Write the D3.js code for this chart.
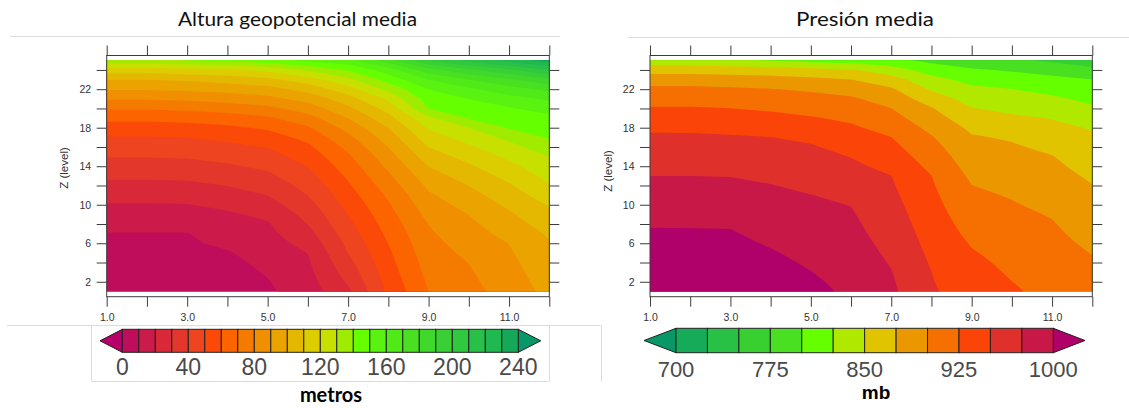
<!DOCTYPE html>
<html>
<head>
<meta charset="utf-8">
<script src="https://cdn.jsdelivr.net/npm/d3@7"></script>
<style>
  html, body { margin: 0; padding: 0; background: #ffffff; }
  svg { display: block; }
</style>
</head>
<body>
<svg id="chart" width="1129" height="408"></svg>
<script>
// Grid: columns 1..12 along x, model levels 1..25 along Z.
const columns = [1, 2, 3, 4, 5, 6, 7, 8, 9, 10, 11, 12];
const levels = [1, 2, 3, 4, 5, 6, 7, 8, 9, 10, 11, 12, 13, 14, 15, 16, 17, 18, 19, 20, 21, 22, 23, 24, 25];

// Mean geopotential height (m), one row per level (level 1 first), one value per column.
const alturaMedia = [
  [3, 3, 3.5, 4.5, 8.5, 15, 28, 52, 70, 77, 84, 93],
  [4, 4, 4.5, 5.5, 9.5, 16.3, 31.4, 53.6, 71.4, 78, 85.2, 94.3],
  [5, 5, 5.5, 6.5, 10.8, 17.5, 34.3, 55.2, 72.9, 79, 86.4, 95.5],
  [6, 6, 6.5, 7.5, 12.5, 18.8, 37.1, 56.8, 74.3, 80.2, 87.6, 96.8],
  [7.5, 7.5, 7.5, 9.2, 14.2, 20.2, 40.2, 58.4, 75.7, 82, 88.8, 98],
  [8.5, 8.5, 8.7, 11.9, 15.8, 23.3, 42.5, 60.2, 77.1, 84, 90.2, 99.3],
  [9.7, 9.7, 9.7, 14.2, 17.5, 26.7, 45, 62.2, 78.6, 86, 92.9, 101.3],
  [12.9, 12.9, 13, 16.5, 19.2, 30.2, 47.5, 64.4, 80.2, 88, 95.7, 104.4],
  [16.1, 16.1, 16.3, 18.8, 22, 33.3, 50.2, 66.7, 82.9, 90.2, 98.6, 107.5],
  [19.4, 19.4, 19.7, 22, 26, 36.7, 52.9, 68.9, 85.7, 93.3, 101.8, 110.8],
  [23.3, 23.3, 23.8, 26, 30.2, 40.2, 55.7, 71.7, 88.6, 96.7, 105.4, 115],
  [27.5, 27.5, 27.9, 30.2, 34, 43.3, 58.6, 75, 92, 100.2, 108.9, 119.2],
  [31.7, 31.7, 32.2, 34.3, 38, 46.7, 61.7, 78.3, 96, 104.3, 113, 122.9],
  [36.1, 36.1, 36.5, 38.7, 42.1, 50.2, 65, 82, 100.2, 108.7, 117.4, 126.4],
  [40.5, 40.5, 40.9, 43, 46.3, 54, 68.3, 86, 105, 113.5, 121.9, 130.2],
  [45, 45, 45.5, 47.4, 50.5, 58, 72.5, 90.2, 110.2, 118.5, 126.7, 135.9],
  [49.5, 49.5, 50.2, 52.4, 55.8, 62.9, 77.5, 95, 115.6, 124.1, 132.7, 141],
  [55.6, 55.6, 56.3, 58.2, 61.4, 68.8, 83.3, 100.2, 121.3, 130.2, 140.8, 144.5],
  [62.5, 62.5, 63.3, 65.4, 68.6, 76.2, 90.2, 106.7, 128, 140.9, 145, 147.9],
  [71, 71, 72, 74, 77.3, 84.5, 97.7, 113.8, 140.2, 145.5, 149.2, 153.3],
  [81, 81, 82, 84, 87, 93.6, 105.8, 122, 145, 150.2, 156.2, 162],
  [90.9, 90.9, 91.8, 93.6, 96.4, 103.3, 115.6, 132.9, 150.2, 158.3, 165.6, 172.9],
  [100.2, 100.2, 101.4, 104.3, 107.5, 115.7, 127.5, 144.2, 160.2, 170.2, 178.6, 188.3],
  [115, 115, 116.7, 118.6, 122.5, 131.7, 141.4, 155, 176, 188, 198, 210.2],
  [137, 138, 140.2, 142, 147.5, 152, 156.7, 176, 201, 214, 225, 235]
];

// Mean pressure (mb), same layout.
const presionMedia = [
  [1020.1, 1020, 1019.8, 1015.8, 1007.4, 995, 980, 952, 942, 928, 918, 912],
  [1017.1, 1017, 1016.8, 1012.3, 1003.9, 992.8, 977.9, 951, 938.2, 925.2, 915.6, 908.8],
  [1014.1, 1014, 1013.8, 1008.8, 1000.4, 990.5, 975.8, 950.1, 934.4, 922.1, 913.3, 905.7],
  [1011.1, 1011, 1010.8, 1005.3, 997.2, 988.3, 973.4, 947.7, 930.7, 919.2, 910.9, 902.5],
  [1008.1, 1008, 1007.8, 1001.8, 994.1, 986, 970.8, 945.2, 926.9, 916.3, 908.5, 899.3],
  [1005.1, 1005, 1004.8, 998.1, 990.9, 983.8, 968.2, 942.7, 923.1, 913.4, 906.2, 896],
  [1002.1, 1002, 1001.8, 994.4, 987.8, 981.5, 965.6, 940.2, 919.2, 910.5, 903.8, 892.6],
  [998.6, 998.5, 998.1, 990.7, 984.7, 979.3, 963, 937.6, 915.4, 907.6, 901.4, 889.2],
  [993.9, 993.8, 993.4, 986.9, 981.6, 977, 960.4, 935.1, 911.5, 904.7, 898.5, 885.8],
  [989.2, 989.1, 988.7, 983.2, 978.4, 974.5, 957.8, 932.6, 907.7, 901.7, 894.7, 882.4],
  [984.4, 984.3, 984, 979.5, 975.3, 969.5, 955.2, 930.1, 903.8, 898.4, 890.9, 879.1],
  [979.7, 979.6, 979.2, 975.7, 970.8, 964.5, 952.6, 927.5, 900.2, 894.3, 887.1, 875.7],
  [974.9, 974.9, 974.4, 970.8, 966.2, 959.5, 950.2, 925.2, 895.5, 890.2, 883.3, 871.4],
  [969.6, 969.5, 968.9, 965.6, 961.6, 954.5, 943.8, 919.2, 890.9, 886.1, 879.5, 866.9],
  [964.1, 964, 963.3, 960.4, 956.9, 949.3, 937.5, 913.4, 886.4, 882, 875.8, 862.5],
  [958.7, 958.6, 957.8, 955.2, 952.3, 942.4, 931.3, 907.6, 881.8, 877.9, 869.6, 858],
  [953.3, 953.2, 952.2, 950.2, 945.4, 935.4, 925.2, 901.7, 877.3, 872.2, 862.8, 853.6],
  [946.2, 946.1, 944.2, 940.7, 936.1, 928.5, 916.7, 894, 870.2, 863, 856.1, 848.1],
  [936.5, 936.4, 934.6, 931.5, 926.9, 920.7, 908.3, 885.3, 860.6, 853.7, 849, 838.5],
  [926.9, 926.8, 925.2, 921.9, 917.3, 912.1, 900.2, 876.7, 851, 844.2, 839, 828.8],
  [916.3, 916.2, 914.1, 911.5, 907.7, 903.4, 889.1, 862.5, 840.6, 834.6, 829, 819.2],
  [905.4, 905.3, 903.3, 901, 896.7, 890.6, 878.3, 847.1, 830.2, 825.2, 817.9, 809.6],
  [889.6, 889.5, 886.5, 883.9, 880.2, 875.2, 860.4, 832.4, 817.6, 811.8, 806, 800.2],
  [864.3, 864.8, 863.9, 861.1, 857.5, 852.3, 836.1, 814.6, 802.9, 797.5, 790.4, 782.1],
  [835, 833, 828, 824, 815, 812.5, 806.3, 793.8, 782, 780, 771, 758.3]
];

// Contour levels and fill colours (first = below lowest level, last = above highest).
const alturaNiveles = [0, 10, 20, 30, 40, 50, 60, 70, 80, 90, 100, 110, 120, 130, 140, 150, 160, 170, 180, 190, 200, 210, 220, 230, 240];
const alturaColores = [
  "#b8006a", "#bf0d5b", "#cc1a4a", "#d92838", "#e3372c", "#ee441f", "#fb4a08", "#fc6400",
  "#f57b00", "#f09000", "#eba300", "#e4b800", "#dccd00", "#c8e000", "#a0ec00", "#66ff00",
  "#5af210", "#50ea18", "#48e020", "#40d82a", "#38d035", "#30c83e", "#28c048", "#20b850",
  "#15a858", "#089868"
];
const alturaEtiquetas = [0, 40, 80, 120, 160, 200, 240];

const presionNiveles = [700, 725, 750, 775, 800, 825, 850, 875, 900, 925, 950, 975, 1000];
const presionColores = [
  "#089868", "#15ab58", "#28c045", "#38d030", "#48e020", "#66ff00", "#b0e800",
  "#e0c400", "#eb9800", "#f57000", "#fb4408", "#e0302c", "#c81848", "#b0006a"
];
const presionEtiquetas = [700, 775, 850, 925, 1000];

// Axis ticks.
const xTicks = [1, 2, 3, 4, 5, 6, 7, 8, 9, 10, 11, 12];
const xTickLabels = [1, 3, 5, 7, 9, 11];
const yTicks = [2, 4, 6, 8, 10, 12, 14, 16, 18, 20, 22, 24];
const yTickLabels = [2, 6, 10, 14, 18, 22];

const svg = d3.select("#chart");
const frameColor = "#3c3c3c";
const tickFont = "'Liberation Sans', Arial, Helvetica, sans-serif";

// Faint outlines around the pasted panels.
const guide = svg.append("g").attr("stroke", "#dcdcdc").attr("stroke-width", 1).attr("fill", "none");
guide.append("line").attr("x1", 10).attr("x2", 560).attr("y1", 36.5).attr("y2", 36.5);
guide.append("line").attr("x1", 628).attr("x2", 1129).attr("y1", 37.5).attr("y2", 37.5);
guide.append("path").attr("d", "M7,325.5H601 M91.5,325.5V381.5H549 M549.5,325.5V381.5 M601.5,325.5V381.5");

function drawPanel(o) {
  const x = d3.scaleLinear().domain([1, 12]).range([o.x0, o.x1]);
  const y = d3.scaleLinear().domain([0.45, 25.5]).range([296.7, 55.5]);
  const g = svg.append("g");

  const clipId = "clip-" + o.id;
  g.append("clipPath").attr("id", clipId).append("rect")
    .attr("x", x(columns[0])).attr("y", y(levels[levels.length - 1]))
    .attr("width", x(columns[columns.length - 1]) - x(columns[0]))
    .attr("height", y(levels[0]) - y(levels[levels.length - 1]));

  // Filled contours: grid sample (i, j) sits at contour coordinate (i + 0.5, j + 0.5).
  const values = o.rows.flat();
  const contours = d3.contours()
    .size([columns.length, levels.length])
    .thresholds(o.thresholds)(values);
  const proj = d3.geoTransform({
    point(px, py) {
      this.stream.point(x(columns[0] + px - 0.5), y(levels[0] + py - 0.5));
    }
  });
  const path = d3.geoPath(proj);
  const layer = g.append("g").attr("clip-path", `url(#${clipId})`);
  layer.append("rect")
    .attr("x", o.x0).attr("y", 50).attr("width", o.x1 - o.x0).attr("height", 250)
    .attr("fill", o.colors[0]);
  layer.selectAll("path.band").data(contours).join("path")
    .attr("class", "band")
    .attr("d", path)
    .attr("fill", (d, i) => o.colors[i + 1]);

  // Frame.
  g.append("rect")
    .attr("x", x(1)).attr("y", y(25.5))
    .attr("width", x(12) - x(1)).attr("height", y(0.45) - y(25.5))
    .attr("fill", "none").attr("stroke", frameColor).attr("stroke-width", 1);

  const fmt = d3.format(".1f");
  const styleAxis = sel => {
    sel.select(".domain").remove();
    sel.selectAll(".tick line").attr("stroke", frameColor).attr("stroke-width", 1);
    sel.selectAll(".tick text")
      .attr("font-family", tickFont).attr("font-size", 10.5).attr("fill", "#333");
  };

  g.append("g").attr("transform", `translate(0,${y(0.45)})`)
    .call(d3.axisBottom(x).tickValues(xTicks).tickSize(10).tickSizeOuter(0).tickPadding(7)
      .tickFormat(d => xTickLabels.includes(d) ? fmt(d) : ""))
    .call(styleAxis);
  g.append("g").attr("transform", `translate(0,${y(25.5)})`)
    .call(d3.axisTop(x).tickValues(xTicks).tickSize(10).tickSizeOuter(0).tickFormat(""))
    .call(styleAxis);
  g.append("g").attr("transform", `translate(${x(1)},0)`)
    .call(d3.axisLeft(y).tickValues(yTicks).tickSize(10).tickSizeOuter(0).tickPadding(5.5)
      .tickFormat(d => yTickLabels.includes(d) ? String(d) : ""))
    .call(styleAxis);
  g.append("g").attr("transform", `translate(${x(12)},0)`)
    .call(d3.axisRight(y).tickValues(yTicks).tickSize(10).tickSizeOuter(0).tickFormat(""))
    .call(styleAxis);

  g.append("text")
    .attr("transform", `translate(${o.zLabelX},${o.zLabelY}) rotate(-90)`)
    .attr("text-anchor", "middle").attr("dominant-baseline", "middle")
    .attr("font-family", tickFont).attr("font-size", 11.5).attr("fill", "#333")
    .text("Z (level)");

  svg.append("text")
    .attr("x", o.titleX).attr("y", 26)
    .attr("text-anchor", "middle")
    .attr("font-family", "Lato, 'Open Sans', sans-serif").attr("font-size", 19.5).attr("fill", "#111")
    .attr("textLength", o.titleW).attr("lengthAdjust", "spacingAndGlyphs")
    .text(o.title);
}

function drawColorbar(o) {
  const bx = d3.scaleLinear().domain([o.thresholds[0], o.thresholds[o.thresholds.length - 1]]).range([o.x0, o.x1]);
  const g = svg.append("g");
  const yMid = (o.y0 + o.y1) / 2;
  const n = o.thresholds.length;
  g.append("path")
    .attr("d", `M${o.tipL},${yMid}L${o.x0},${o.y0}V${o.y1}Z`)
    .attr("fill", o.colors[0]).attr("stroke", "#222").attr("stroke-width", 1);
  g.append("path")
    .attr("d", `M${o.tipR},${yMid}L${o.x1},${o.y0}V${o.y1}Z`)
    .attr("fill", o.colors[o.colors.length - 1]).attr("stroke", "#222").attr("stroke-width", 1);
  g.selectAll("rect.box").data(d3.range(n - 1)).join("rect")
    .attr("class", "box")
    .attr("x", k => bx(o.thresholds[k]))
    .attr("y", o.y0)
    .attr("width", k => bx(o.thresholds[k + 1]) - bx(o.thresholds[k]))
    .attr("height", o.y1 - o.y0)
    .attr("fill", k => o.colors[k + 1])
    .attr("stroke", "#222").attr("stroke-width", 1);
  g.selectAll("text.lab").data(o.labels).join("text")
    .attr("class", "lab")
    .attr("x", d => bx(d)).attr("y", o.labelY)
    .attr("text-anchor", "middle")
    .attr("font-family", tickFont).attr("font-size", o.labelSize).attr("fill", "#4a4a4a")
    .text(d => d);
  g.append("text")
    .attr("x", o.unitX).attr("y", o.unitY)
    .attr("text-anchor", "middle")
    .attr("font-family", o.unitFont).attr("font-size", o.unitSize).attr("font-weight", "bold").attr("fill", "#000")
    .text(o.unit);
}

drawPanel({
  id: "altura", rows: alturaMedia, thresholds: alturaNiveles, colors: alturaColores,
  x0: 106.7, x1: 549.3, zLabelX: 65, zLabelY: 168,
  title: "Altura geopotencial media", titleX: 297.5, titleW: 239
});
drawPanel({
  id: "presion", rows: presionMedia, thresholds: presionNiveles, colors: presionColores,
  x0: 650, x1: 1092.3, zLabelX: 609, zLabelY: 171,
  title: "Presión media", titleX: 865, titleW: 138
});

drawColorbar({
  thresholds: alturaNiveles, colors: alturaColores, labels: alturaEtiquetas,
  x0: 122.3, x1: 518.3, tipL: 100, tipR: 540.7, y0: 329.3, y1: 352.3,
  labelY: 375, labelSize: 23,
  unit: "metros", unitX: 331, unitY: 402, unitSize: 20, unitFont: "Lato, 'Open Sans', sans-serif"
});
drawColorbar({
  thresholds: presionNiveles, colors: presionColores, labels: presionEtiquetas,
  x0: 676, x1: 1053.3, tipL: 644, tipR: 1085, y0: 328.3, y1: 352.7,
  labelY: 376.5, labelSize: 22,
  unit: "mb", unitX: 876, unitY: 399, unitSize: 19, unitFont: "'Liberation Sans', Arial, sans-serif"
});
</script>
</body>
</html>
